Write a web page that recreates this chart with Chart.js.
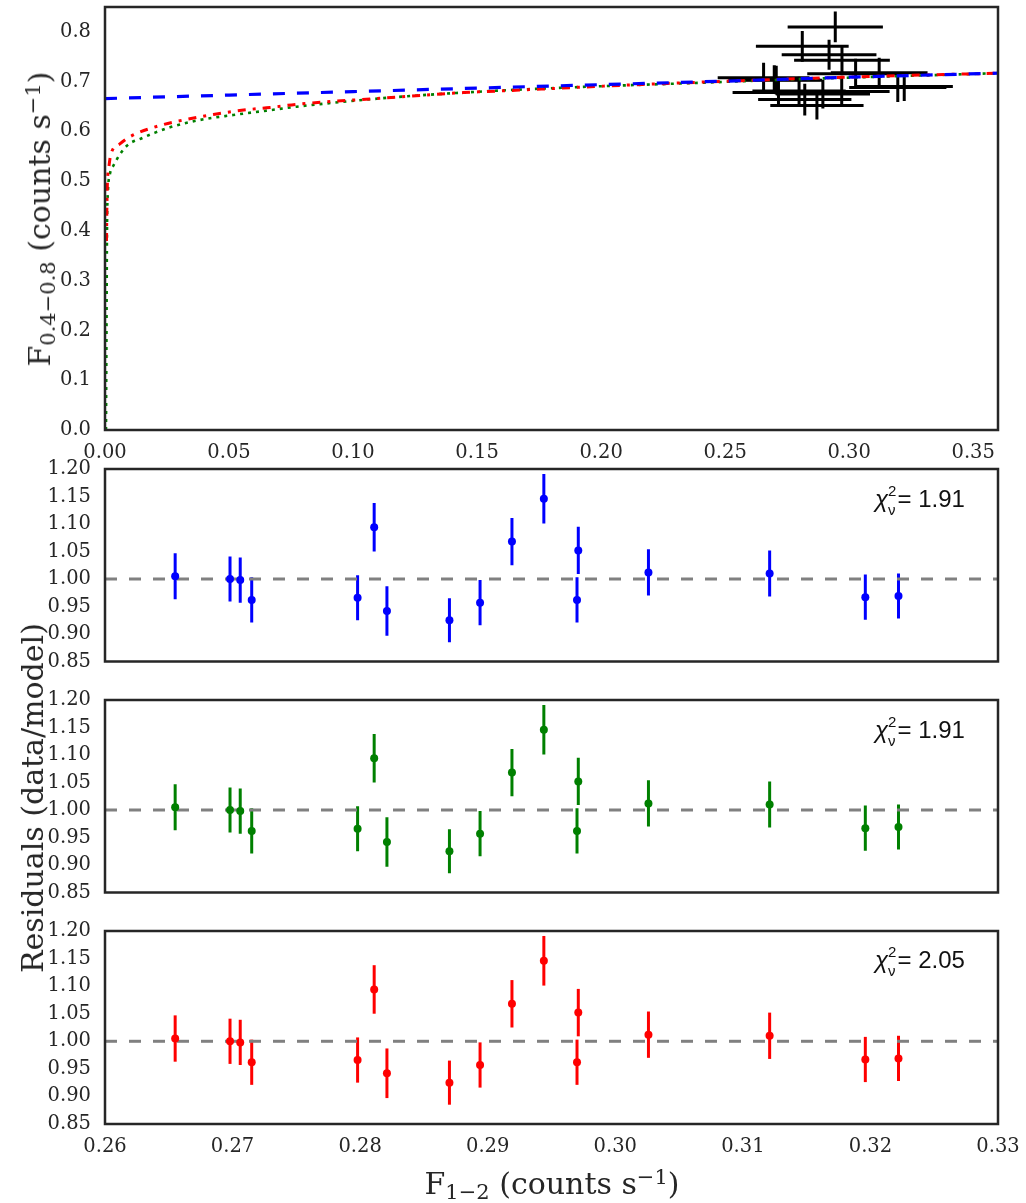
<!DOCTYPE html>
<html>
<head>
<meta charset="utf-8">
<script src="https://cdn.jsdelivr.net/npm/chart.js@4.4.1/dist/chart.umd.min.js"></script>
<style>
  body { margin: 0; background: #fff; width: 1026px; height: 1203px; position: relative; overflow: hidden; }
  canvas { position: absolute; left: 0; }
  .lbl { position: absolute; font-family: 'DejaVu Serif', serif; font-size: 30px; color: #262626; white-space: nowrap; transform: translate(-50%, -50%); line-height: 1; }
  .lbl.rot { transform: translate(-50%, -50%) rotate(-90deg); }
  .lbl sub { font-size: 0.7em; vertical-align: -0.25em; line-height: 0; }
  .lbl sup { font-size: 0.7em; vertical-align: 0.5em; line-height: 0; }
  .chi { position: absolute; font-family: 'Liberation Sans', Arial, sans-serif; font-size: 24px; line-height: 24px; color: #111; white-space: nowrap; }
  .chi i { font-style: italic; }
  .chi .sp { font-size: 15px; position: relative; top: -11px; }
  .chi .sb { font-size: 15px; position: relative; top: 8px; margin-left: -8.5px; margin-right: 2px; }
</style>
</head>
<body>
<canvas id="top" width="1026" height="470" style="top:0"></canvas>
<canvas id="res1" width="1026" height="220" style="top:455px"></canvas>
<canvas id="res2" width="1026" height="220" style="top:686px"></canvas>
<canvas id="res3" width="1026" height="250" style="top:917px"></canvas>

<div class="lbl rot" style="left:40px; top:219px">F<sub>0.4−0.8</sub> (counts s<sup>−1</sup>)</div>
<div class="lbl rot" style="left:33px; top:798px">Residuals (data/model)</div>
<div class="lbl" style="left:552px; top:1184px">F<sub>1−2</sub> (counts s<sup>−1</sup>)</div>

<div class="chi" style="left:875px; top:487px"><i>χ</i><span class="sp">2</span><span class="sb">ν</span>= 1.91</div>
<div class="chi" style="left:875px; top:718px"><i>χ</i><span class="sp">2</span><span class="sb">ν</span>= 1.91</div>
<div class="chi" style="left:875px; top:948px"><i>χ</i><span class="sp">2</span><span class="sb">ν</span>= 2.05</div>

<script>
/* ── data ── */

// observations: F(1-2) on x, F(0.4-0.8) on y, with 1-sigma errors
const softFlux = [0.2655, 0.2698, 0.2706, 0.2715, 0.2798, 0.2811, 0.2821, 0.2870, 0.2894, 0.2919, 0.2944, 0.2971, 0.2970, 0.3026, 0.3121, 0.3196, 0.3222];
const softErr  = [0.0185, 0.0185, 0.0185, 0.0185, 0.0188, 0.0187, 0.0188, 0.0188, 0.0190, 0.0191, 0.0192, 0.0193, 0.0193, 0.0195, 0.0195, 0.0196, 0.0196];
const hardFlux = [0.708, 0.704, 0.703, 0.678, 0.681, 0.771, 0.664, 0.652, 0.675, 0.754, 0.810, 0.743, 0.680, 0.716, 0.718, 0.688, 0.690];
const hardErr  = [0.030, 0.029, 0.029, 0.029, 0.029, 0.031, 0.032, 0.028, 0.029, 0.030, 0.031, 0.030, 0.029, 0.030, 0.030, 0.029, 0.029];

// model curves (top panel)
const blueX  = [0, 0.05, 0.10, 0.15, 0.20, 0.25, 0.30, 0.36];
const blueY  = [0.666, 0.673, 0.680, 0.687, 0.694, 0.701, 0.709, 0.717];
const redX   = [0.0006, 0.0008, 0.0010, 0.0016, 0.0023, 0.0060, 0.0107, 0.0215, 0.0327, 0.0437, 0.0551, 0.0665, 0.0773, 0.1109, 0.1445, 0.167, 0.201, 0.235, 0.28, 0.32, 0.36];
const redY   = [0.38, 0.46, 0.50, 0.53, 0.553, 0.575, 0.591, 0.611, 0.624, 0.634, 0.6425, 0.648, 0.6545, 0.6666, 0.678, 0.683, 0.691, 0.698, 0.706, 0.712, 0.717];
const greenX = [0.0004, 0.0006, 0.0008, 0.0012, 0.0020, 0.0033, 0.0087, 0.0148, 0.0202, 0.0262, 0.0383, 0.0517, 0.0652, 0.0773, 0.115, 0.155, 0.1956, 0.236, 0.28, 0.32, 0.36];
const greenY = [0.0, 0.2, 0.4, 0.48, 0.515, 0.5305, 0.5707, 0.5862, 0.5975, 0.6083, 0.623, 0.633, 0.6417, 0.6497, 0.668, 0.681, 0.690, 0.697, 0.705, 0.711, 0.717];

// residuals (data/model) – the three panels show the same values
const resVal = [1.005, 1.000, 0.998, 0.962, 0.966, 1.094, 0.942, 0.925, 0.957, 1.068, 1.146, 1.052, 0.962, 1.012, 1.010, 0.967, 0.969];
const resErr = [0.042, 0.041, 0.041, 0.041, 0.041, 0.044, 0.045, 0.040, 0.041, 0.043, 0.045, 0.043, 0.041, 0.042, 0.042, 0.041, 0.041];
const refX = [0.26, 0.33];
const refY = [1, 1];

// tick labels
const topXTicks = [0, 0.05, 0.10, 0.15, 0.20, 0.25, 0.30, 0.35];
const topYTicks = [0, 0.1, 0.2, 0.3, 0.4, 0.5, 0.6, 0.7, 0.8];
const resXTicks = [0.26, 0.27, 0.28, 0.29, 0.30, 0.31, 0.32, 0.33];
const resYTicks = [0.85, 0.90, 0.95, 1.00, 1.05, 1.10, 1.15, 1.20];

const TEXT = '#262626';

/* ── plugins ── */
const errorBars = {
  id: 'errorBars',
  beforeDatasetsDraw(chart) {
    const { ctx, chartArea: a, scales: { x, y } } = chart;
    ctx.save();
    ctx.beginPath(); ctx.rect(a.left, a.top, a.width, a.height); ctx.clip();
    chart.data.datasets.forEach(ds => {
      if (!ds.errY) return;
      ctx.strokeStyle = ds.errColor; ctx.lineWidth = 3; ctx.lineCap = 'butt';
      ds.data.forEach((p, i) => {
        const px = x.getPixelForValue(p.x), py = y.getPixelForValue(p.y);
        ctx.beginPath();
        if (ds.errX) {
          ctx.moveTo(x.getPixelForValue(p.x - ds.errX[i]), py);
          ctx.lineTo(x.getPixelForValue(p.x + ds.errX[i]), py);
        }
        ctx.moveTo(px, y.getPixelForValue(p.y - ds.errY[i]));
        ctx.lineTo(px, y.getPixelForValue(p.y + ds.errY[i]));
        ctx.stroke();
      });
    });
    ctx.restore();
  }
};

const frame = {
  id: 'frame',
  afterDraw(chart) {
    const { ctx, chartArea: a } = chart;
    ctx.save();
    ctx.strokeStyle = TEXT; ctx.lineWidth = 2.5;
    ctx.strokeRect(a.left, a.top, a.width, a.height);
    ctx.restore();
  }
};

/* ── helpers ── */
function pts(xs, ys) { return xs.map((v, i) => ({ x: v, y: ys[i] })); }

function axis(min, max, ticks, digits, show, isX, size) {
  return {
    type: 'linear', min, max,
    grid: { display: false, drawTicks: false },
    border: { display: false },
    afterBuildTicks: s => { s.ticks = ticks.map(v => ({ value: v })); },
    afterFit: s => {
      if (isX) s.height = size; else s.width = size;
      s.paddingLeft = s.paddingRight = s.paddingTop = s.paddingBottom = 0;
    },
    ticks: {
      display: show, padding: isX ? 11 : 14, color: TEXT, autoSkip: false, maxRotation: 0,
      font: { family: 'DejaVu Serif', size: 19.5 },
      callback: v => Number(v).toFixed(digits)
    }
  };
}

function baseOptions(padding, scales) {
  return {
    responsive: false, animation: false, events: [],
    layout: { padding },
    plugins: { legend: { display: false }, tooltip: { enabled: false } },
    scales
  };
}

/* ── top panel ── */
new Chart(document.getElementById('top'), {
  type: 'scatter',
  data: {
    datasets: [
      { data: pts(blueX, blueY), showLine: true, borderColor: '#0000ff', borderWidth: 3.2, borderDash: [12, 12], pointRadius: 0 },
      { data: pts(redX, redY), showLine: true, borderColor: '#ff0000', borderWidth: 3, borderDash: [8, 7, 3, 7], pointRadius: 0, cubicInterpolationMode: 'monotone' },
      { data: pts(greenX, greenY), showLine: true, borderColor: '#008000', borderWidth: 2.6, borderDash: [3, 5], pointRadius: 0, cubicInterpolationMode: 'monotone' },
      { data: pts(softFlux, hardFlux), errX: softErr, errY: hardErr, errColor: '#000000', pointRadius: 0 }
    ]
  },
  options: baseOptions({ top: 7, right: 28, bottom: 0, left: 0 }, {
    x: axis(0, 0.36, topXTicks, 2, true, true, 40),
    y: axis(0, 0.85, topYTicks, 1, true, false, 105)
  }),
  plugins: [errorBars, frame]
});

/* ── residual panels ── */
function residualPanel(id, color, showX) {
  new Chart(document.getElementById(id), {
    type: 'scatter',
    data: {
      datasets: [
        { data: pts(softFlux, resVal), errY: resErr, errColor: color, backgroundColor: color, borderWidth: 0, pointRadius: 4 },
        { data: pts(refX, refY), showLine: true, borderColor: '#808080', borderWidth: 3, borderDash: [12, 12], pointRadius: 0 }
      ]
    },
    options: baseOptions({ top: 14, right: 28, bottom: showX ? 0 : 13.5, left: 0 }, {
      x: axis(0.26, 0.33, resXTicks, 2, showX, true, showX ? 43 : 0),
      y: axis(0.85, 1.20, resYTicks, 2, true, false, 105)
    }),
    plugins: [errorBars, frame]
  });
}

residualPanel('res1', '#0000ff', false);
residualPanel('res2', '#008000', false);
residualPanel('res3', '#ff0000', true);
</script>
</body>
</html>
